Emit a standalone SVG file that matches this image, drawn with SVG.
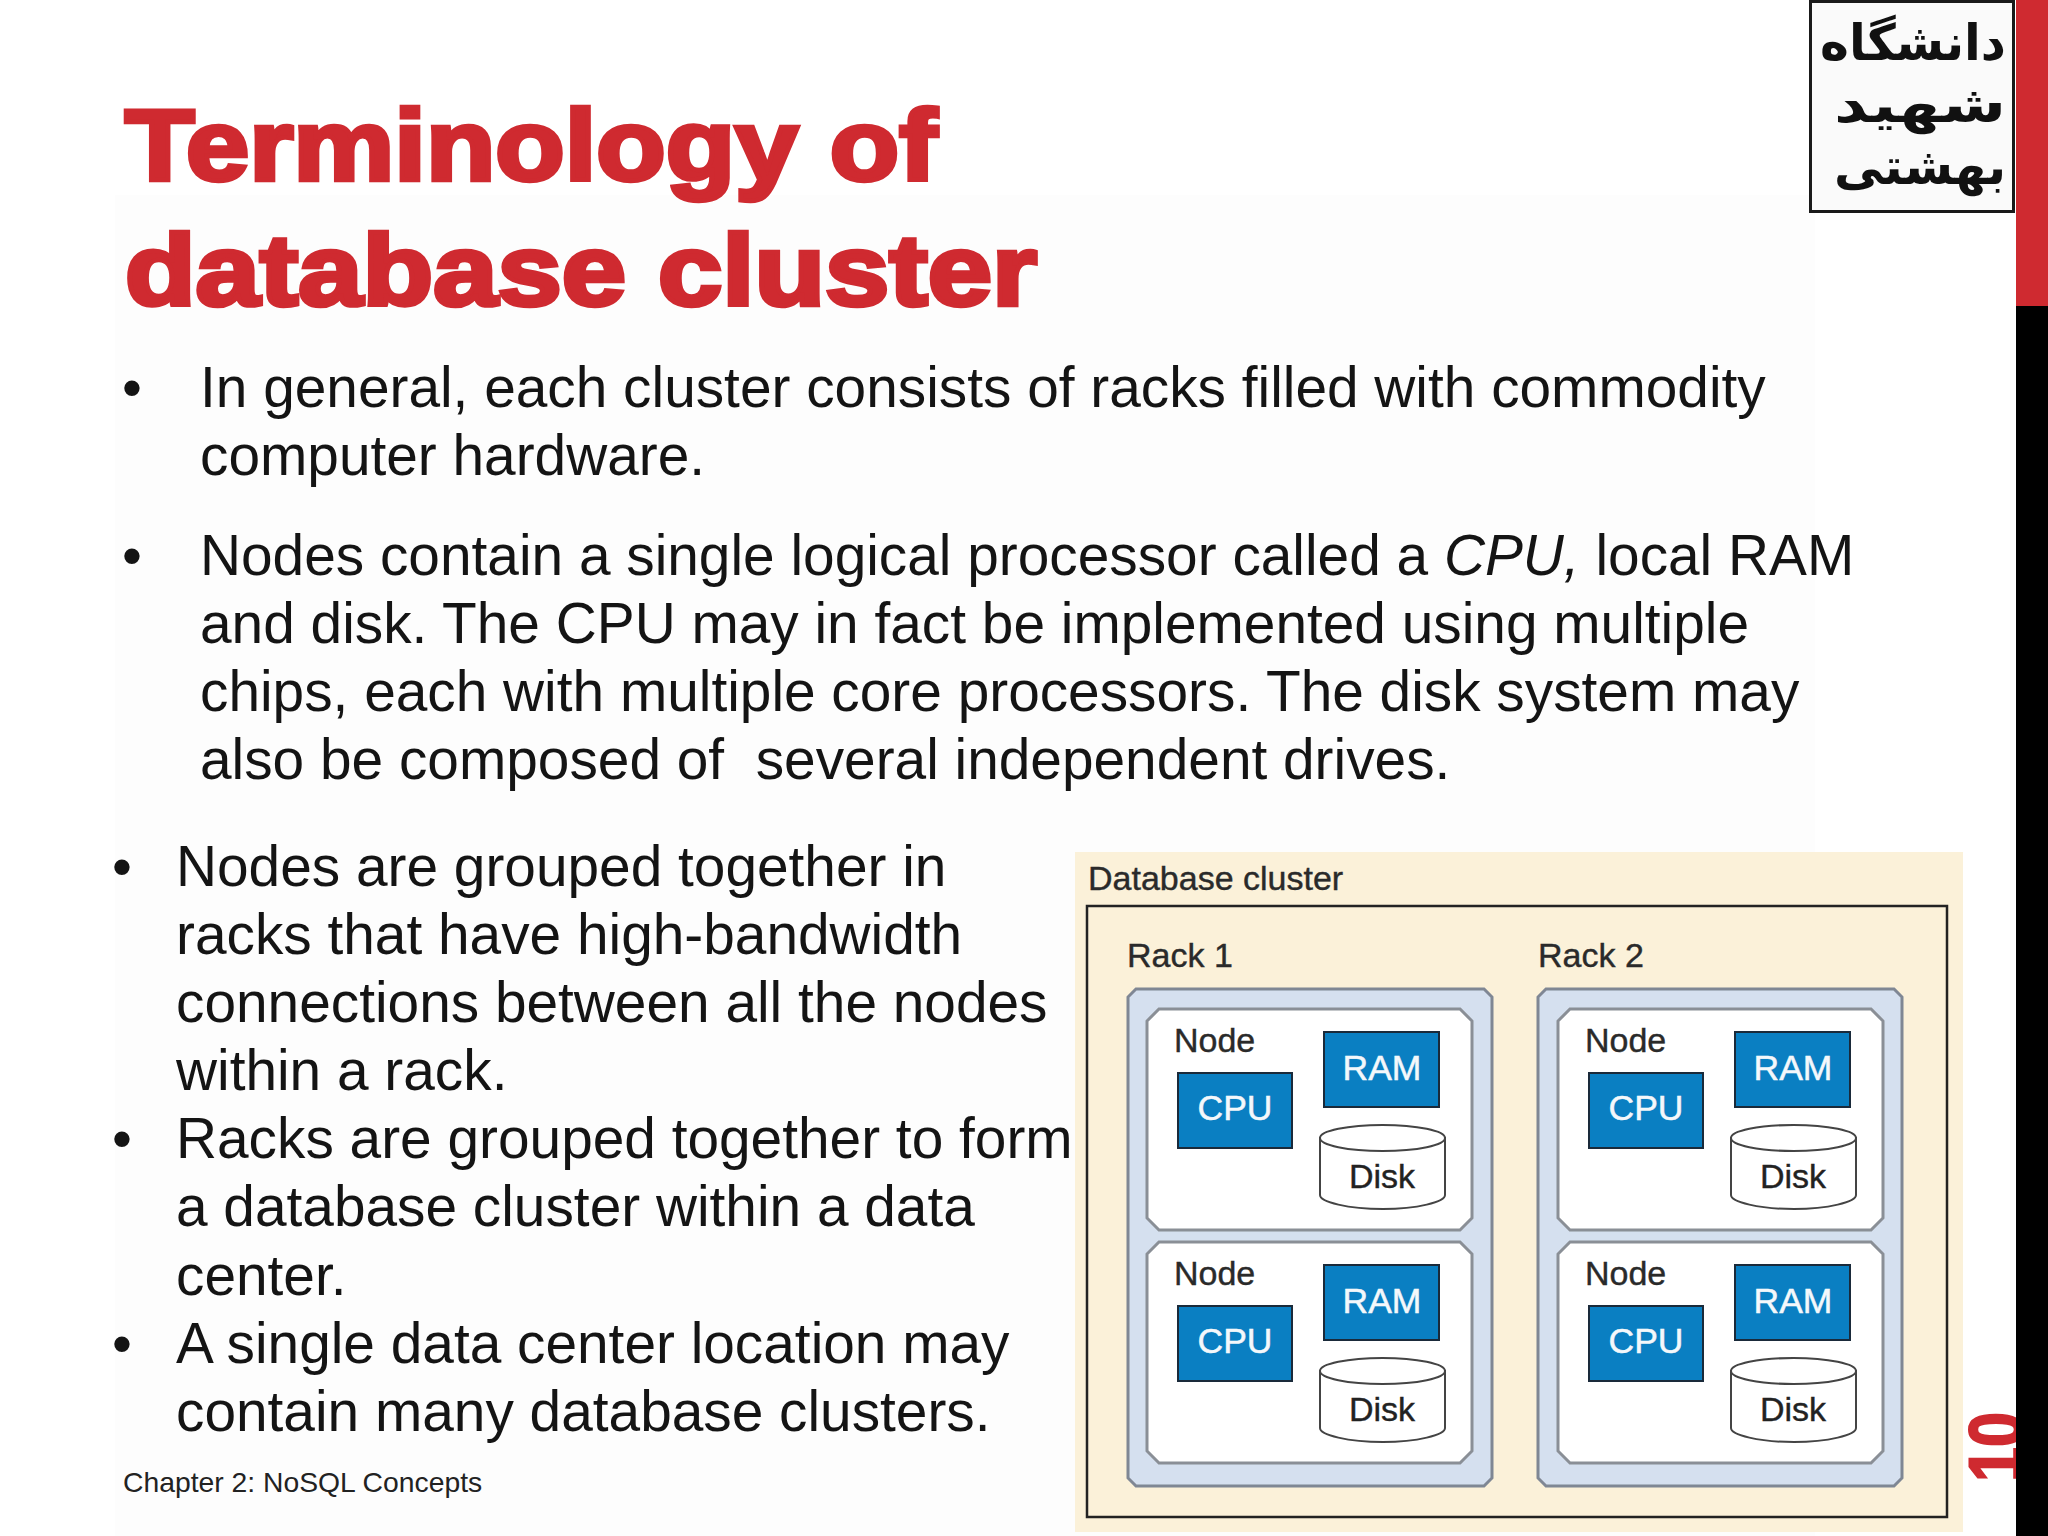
<svg xmlns="http://www.w3.org/2000/svg" width="2048" height="1536" viewBox="0 0 2048 1536">
<style>
text{font-family:"Liberation Sans",Arial,sans-serif}
.title{font-size:100px;font-weight:700;fill:#cf2a30;stroke:#cf2a30;stroke-width:4.500px}
.body{font-size:56.800px;fill:#141414}
.lab{font-size:34px;fill:#2a2a2a;stroke:#2a2a2a;stroke-width:.4px}
.w{font-size:35.500px;fill:#f4f8fb;stroke:#f4f8fb;stroke-width:.5px;text-anchor:middle}
.d{font-size:34px;fill:#222;stroke:#222;stroke-width:.4px;text-anchor:middle}
.rack{fill:#d5e0ef;stroke:#7f8794;stroke-width:3}
.node{fill:#fff;stroke:#8a8f96;stroke-width:3}
.chip{fill:#0a7fc2;stroke:#1a2a3a;stroke-width:2}
.disk{fill:#fff;stroke:#444;stroke-width:2}
.logo{font-size:50px;font-weight:700;fill:#111}
.logo{font-family:"DejaVu Sans",sans-serif}
</style>
<defs>
<g id="nodeT">
<path class="node" d="M12 0H313L325 12V209L313 221H12L0 209V12Z"/>
<text class="lab" x="27" y="43">Node</text>
<rect class="chip" x="31" y="64" width="114" height="75"/>
<text class="w" x="88" y="111">CPU</text>
<rect class="chip" x="177" y="23" width="115" height="75"/>
<text class="w" x="235" y="71">RAM</text>
<path class="disk" d="M173 129V186C173 193 201 200 236 200C270 200 298 193 298 186V129Z"/>
<ellipse class="disk" cx="235.500" cy="129" rx="62.500" ry="13"/>
<text class="d" x="235" y="179">Disk</text>
</g>
</defs>
<rect width="2048" height="1536" fill="#fff"/>
<rect x="115" y="195" width="1700" height="1341" fill="#fdfdfd"/>
<g id="title">
<text class="title" x="125" y="180" textLength="812" lengthAdjust="spacingAndGlyphs">Terminology of</text>
<text class="title" x="125" y="305" textLength="912" lengthAdjust="spacingAndGlyphs">database cluster</text>
</g>
<g id="text-top">
<text class="body" x="122" y="407">•</text>
<text class="body" x="200" y="407">In general, each cluster consists of racks filled with commodity</text>
<text class="body" x="200" y="475">computer hardware.</text>
<text class="body" x="122" y="575">•</text>
<text class="body" x="200" y="575">Nodes contain a single logical processor called a <tspan font-style="italic">CPU,</tspan> local RAM</text>
<text class="body" x="200" y="643">and disk. The CPU may in fact be implemented using multiple</text>
<text class="body" x="200" y="711">chips, each with multiple core processors. The disk system may</text>
<text class="body" x="200" y="779" xml:space="preserve">also be composed of  several independent drives.</text>
</g>
<g id="text-left">
<text class="body" x="112" y="886">•</text>
<text class="body" x="176" y="886">Nodes are grouped together in</text>
<text class="body" x="176" y="954">racks that have high-bandwidth</text>
<text class="body" x="176" y="1022">connections between all the nodes</text>
<text class="body" x="176" y="1090">within a rack.</text>
<text class="body" x="112" y="1158">•</text>
<text class="body" x="176" y="1158">Racks are grouped together to form</text>
<text class="body" x="176" y="1226">a database cluster within a data</text>
<text class="body" x="176" y="1295">center.</text>
<text class="body" x="112" y="1363">•</text>
<text class="body" x="176" y="1363">A single data center location may</text>
<text class="body" x="176" y="1431">contain many database clusters.</text>
</g>
<text id="footer" x="123" y="1492" font-size="28.300" fill="#222">Chapter 2: NoSQL Concepts</text>
<g id="cluster">
<rect x="1075" y="852" width="888" height="680" fill="#fbf1d9"/>
<text class="lab" x="1088" y="890">Database cluster</text>
<rect x="1087" y="906" width="860" height="611" fill="#fbf1d9" stroke="#222" stroke-width="2.500"/>
</g>
<g id="rack1">
<text class="lab" x="1127" y="967">Rack 1</text>
<path class="rack" d="M1136 989H1484L1492 997V1478L1484 1486H1136L1128 1478V997Z"/>
</g>
<g id="rack2">
<text class="lab" x="1538" y="967">Rack 2</text>
<path class="rack" d="M1546 989H1894L1902 997V1478L1894 1486H1546L1538 1478V997Z"/>
</g>
<g id="rack1-node1" transform="translate(1147 1009)"><use href="#nodeT"/></g>
<g id="rack1-node2" transform="translate(1147 1242)"><use href="#nodeT"/></g>
<g id="rack2-node1" transform="translate(1558 1009)"><use href="#nodeT"/></g>
<g id="rack2-node2" transform="translate(1558 1242)"><use href="#nodeT"/></g>
<g id="logo">
<rect x="1810.500" y="1.500" width="203" height="210" fill="#fafafa" stroke="#1a1a1a" stroke-width="3"/>
<text class="logo" direction="rtl" x="2006" y="60" textLength="186" lengthAdjust="spacingAndGlyphs">دانشگاه</text>
<text class="logo" direction="rtl" x="2006" y="122" textLength="172" lengthAdjust="spacingAndGlyphs">شهید</text>
<text class="logo" direction="rtl" x="2006" y="184" textLength="172" lengthAdjust="spacingAndGlyphs">بهشتی</text>
</g>
<g id="page-number">
<text transform="translate(2022 1482) rotate(-90)" font-size="76" font-weight="700" fill="#cf2a30" stroke="#cf2a30" stroke-width="2" textLength="70" lengthAdjust="spacingAndGlyphs">10</text>
</g>
<g id="sidebar">
<rect x="2016" y="0" width="32" height="306" fill="#cf2a30"/>
<rect x="2016" y="306" width="32" height="1230" fill="#000"/>
</g>
</svg>
